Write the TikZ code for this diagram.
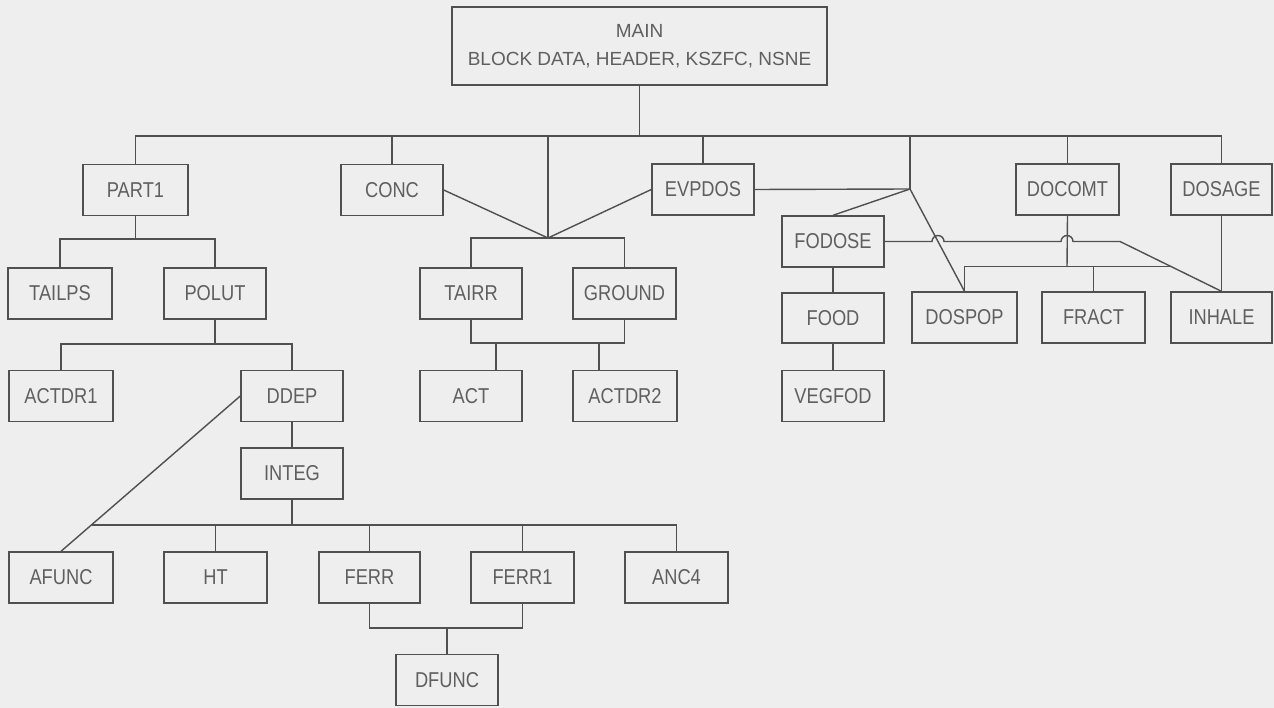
\documentclass[tikz,border=0pt]{standalone}
\usepackage{fontspec}
\usetikzlibrary{calc}
\newfontfamily\lblfont[FakeStretch=0.85]{Liberation Sans}
\newfontfamily\mainfont{Liberation Sans}
\definecolor{bgc}{RGB}{238,238,238}
\definecolor{linec}{RGB}{80,80,80}
\definecolor{textc}{RGB}{95,95,95}
\begin{document}
\begin{tikzpicture}[x=1pt,y=-1pt,
  box/.style={draw=linec,line width=1.4pt,minimum width=102pt,minimum height=51pt,inner sep=0pt,
    text=textc,font=\lblfont\fontsize{21.5}{25}\selectfont},
  conn/.style={draw=linec,line width=1.4pt}]
\useasboundingbox[fill=bgc] (0,0) rectangle (1274,708);
% top
\node[box,minimum width=375pt,minimum height=78pt,align=center,
  font=\mainfont\fontsize{19}{28}\selectfont] (MAIN) at (639.5,46) {MAIN\\BLOCK DATA, HEADER, KSZFC, NSNE};
% row 1
\node[box,minimum width=105pt] (PART1) at (135.5,190) {PART1};
\node[box] (CONC) at (392,190) {CONC};
\node[box] (EVPDOS) at (703,189.5) {EVPDOS};
\node[box,minimum width=103pt] (DOCOMT) at (1067.5,189.5) {DOCOMT};
\node[box,minimum width=101pt] (DOSAGE) at (1221.5,189.5) {DOSAGE};
% row 2
\node[box,minimum width=104pt] (TAILPS) at (60,293.5) {TAILPS};
\node[box] (POLUT) at (215,293.5) {POLUT};
\node[box] (TAIRR) at (471,293.5) {TAIRR};
\node[box,minimum width=103pt] (GROUND) at (624.5,293.5) {GROUND};
\node[box] (FODOSE) at (833,241.5) {FODOSE};
\node[box,minimum height=50pt] (FOOD) at (833,318) {FOOD};
\node[box,minimum width=105pt] (DOSPOP) at (964.5,317.5) {DOSPOP};
\node[box,minimum width=103pt] (FRACT) at (1093.5,317.5) {FRACT};
\node[box,minimum width=101pt] (INHALE) at (1221.5,317.5) {INHALE};
% row 3
\node[box,minimum width=104pt] (ACTDR1) at (61,396) {ACTDR1};
\node[box] (DDEP) at (292,396) {DDEP};
\node[box] (ACT) at (471,396) {ACT};
\node[box,minimum width=104pt] (ACTDR2) at (625,396) {ACTDR2};
\node[box] (VEGFOD) at (833,396) {VEGFOD};
\node[box] (INTEG) at (292,473.5) {INTEG};
% row 4
\node[box,minimum width=104pt] (AFUNC) at (61,577.5) {AFUNC};
\node[box,minimum width=103pt] (HT) at (215.5,577.5) {HT};
\node[box,minimum width=101pt] (FERR) at (369.5,577.5) {FERR};
\node[box,minimum width=103pt] (FERR1) at (522.5,577.5) {FERR1};
\node[box,minimum width=103pt] (ANC4) at (676.5,577.5) {ANC4};
\node[box] (DFUNC) at (447,680) {DFUNC};
% junctions
\coordinate (bus) at (0,136);
\coordinate (J1) at (548,238);
\coordinate (J2) at (910,189);
\coordinate (J3) at (496,343);
\coordinate (J4) at (599,343);
\coordinate (J5) at (135.5,239);
\coordinate (J6) at (215,344);
\coordinate (J7) at (292,525);
\coordinate (J8) at (92,525);
\coordinate (J9) at (447,628);
\coordinate (J10) at (1067,267);
\coordinate (K) at (1120,241.5);
\coordinate (J11) at ($(K)!0.5!(INHALE.north)$);
% main bus
\draw[conn] (MAIN.south) -- (MAIN.south |- bus);
\draw[conn] (PART1.north) |- (bus -| DOSAGE.north) -- (DOSAGE.north);
\draw[conn] (CONC.north) -- (CONC.north |- bus);
\draw[conn] (EVPDOS.north) -- (EVPDOS.north |- bus);
\draw[conn] (DOCOMT.north) -- (DOCOMT.north |- bus);
\draw[conn] (J1) -- (J1 |- bus);
\draw[conn] (J2) -- (J2 |- bus);
% CONC / EVPDOS junction
\draw[conn] (CONC.east) -- (J1) -- (EVPDOS.west);
\draw[conn] (TAIRR.north) |- (J1) -| (GROUND.north);
\draw[conn] (TAIRR.south) |- (J3) -| (GROUND.south);
\draw[conn] (J3) -- (J3 |- ACT.north);
\draw[conn] (J4) -- (J4 |- ACTDR2.north);
% EVPDOS junction
\draw[conn] (EVPDOS.east) -- (J2);
\draw[conn] (J2) -- (FODOSE.north);
\draw[conn] (J2) -- (DOSPOP.north);
\draw[conn] (FODOSE.south) -- (FOOD.north);
\draw[conn] (FOOD.south) -- (VEGFOD.north);
% FODOSE to INHALE with hops
\draw[conn] (FODOSE.east) -- (932,241.5) arc[start angle=180,end angle=0,radius=6pt]
  -- (1061,241.5) arc[start angle=180,end angle=0,radius=6pt] -- (K) -- (INHALE.north);
% DOCOMT
\draw[conn] (DOCOMT.south) -- (J10);
\draw[conn] (DOSPOP.north) |- (J11);
\draw[conn] (FRACT.north) -- (FRACT.north |- J10);
\draw[conn] (DOSAGE.south) -- (INHALE.north);
% PART1 subtree
\draw[conn] (PART1.south) -- (J5);
\draw[conn] (TAILPS.north) |- (J5) -| (POLUT.north);
\draw[conn] (POLUT.south) -- (J6);
\draw[conn] (ACTDR1.north) |- (J6) -| (DDEP.north);
\draw[conn] (DDEP.south) -- (INTEG.north);
\draw[conn] (INTEG.south) -- (J7);
\draw[conn] (DDEP.west) -- (AFUNC.north);
\draw[conn] (J8) -| (ANC4.north);
\draw[conn] (HT.north) -- (HT.north |- J7);
\draw[conn] (FERR.north) -- (FERR.north |- J7);
\draw[conn] (FERR1.north) -- (FERR1.north |- J7);
\draw[conn] (FERR.south) |- (J9) -| (FERR1.south);
\draw[conn] (J9) -- (DFUNC.north);
\end{tikzpicture}
\end{document}
